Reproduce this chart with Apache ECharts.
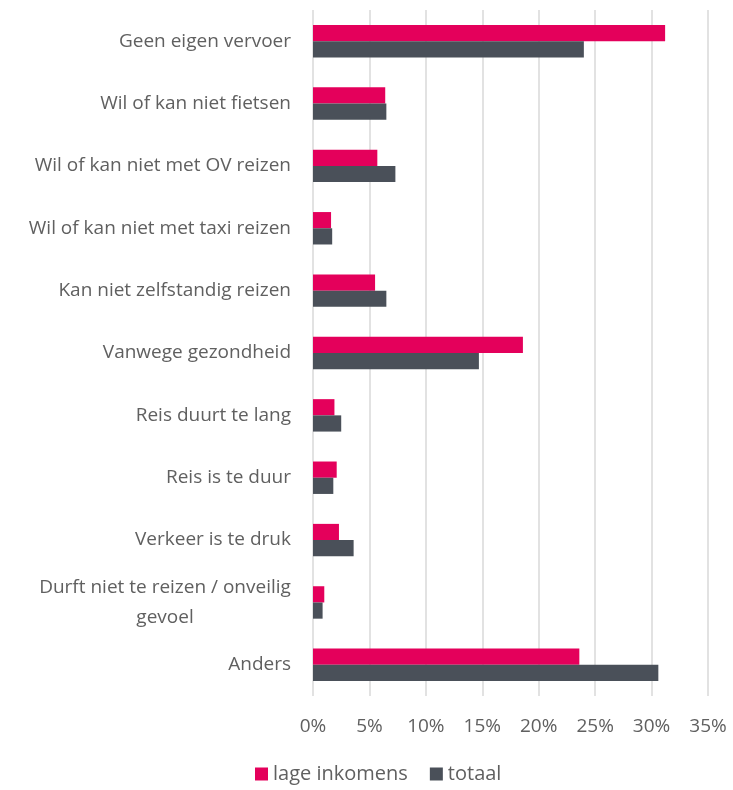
<!DOCTYPE html>
<html>
<head>
<meta charset="utf-8">
<script src="https://cdn.jsdelivr.net/npm/echarts@6/dist/echarts.min.js"></script>
<style>
  html, body { margin: 0; padding: 0; background: #fff; }
  #chart { width: 733px; height: 790px; }
</style>
</head>
<body>
<div id="chart"></div>
<script>
// Reasons for not travelling (share of respondents, %)
const categories = [
  'Geen eigen vervoer',
  'Wil of kan niet fietsen',
  'Wil of kan niet met OV reizen',
  'Wil of kan niet met taxi reizen',
  'Kan niet zelfstandig reizen',
  'Vanwege gezondheid',
  'Reis duurt te lang',
  'Reis is te duur',
  'Verkeer is te druk',
  'Durft niet te reizen / onveilig\ngevoel',
  'Anders'
];
const lageInkomens = [31.2, 6.4, 5.7, 1.6, 5.5, 18.6, 1.9, 2.1, 2.3, 1.0, 23.6];
const totaal       = [24.0, 6.5, 7.3, 1.7, 6.5, 14.7, 2.5, 1.8, 3.6, 0.85, 30.6];
const seriesNames = ['lage inkomens', 'totaal'];
const tickMax = 35;
const tickStep = 5;

const font = '"Open Sans", "Noto Sans", sans-serif';
const labelSize = 19;
const labelColor = '#606060';

// width of the longest line of a wrapped label, so every line can be centred on it
function lineWidth(lines) {
  const ctx = document.createElement('canvas').getContext('2d');
  ctx.font = labelSize + 'px ' + font;
  return Math.ceil(Math.max.apply(null, lines.map(s => ctx.measureText(s).width)));
}

const chart = echarts.init(document.getElementById('chart'), null, { renderer: 'canvas' });

chart.setOption({
  animation: false,
  color: ['#E4005B', '#4A5059'],
  textStyle: { fontFamily: font },
  grid: { left: 313, right: 25, top: 10, bottom: 94, containLabel: false },
  legend: {
    bottom: 1,
    left: 250,
    itemWidth: 13,
    itemHeight: 13,
    itemGap: 22,
    icon: 'rect',
    textStyle: { fontSize: 20, color: labelColor, fontFamily: font },
    data: seriesNames
  },
  xAxis: {
    type: 'value',
    min: 0,
    max: tickMax,
    interval: tickStep,
    axisLine: { show: false },
    axisTick: { show: false },
    splitLine: { show: true, lineStyle: { color: '#d9d9d9', width: 1.5 } },
    axisLabel: {
      margin: 21,
      fontSize: labelSize,
      color: labelColor,
      fontFamily: font,
      formatter: v => v + '%'
    }
  },
  yAxis: {
    type: 'category',
    inverse: true,
    data: categories,
    axisLine: { show: false },
    axisTick: { show: false },
    axisLabel: {
      margin: 22,
      fontSize: labelSize,
      color: labelColor,
      fontFamily: font,
      lineHeight: 30,
      formatter: function (v) {
        if (v.indexOf('\n') >= 0) {
          const lines = v.split('\n');
          const w = lineWidth(lines);
          return lines.map(s => '{c' + w + '|' + s + '}').join('\n');
        }
        return v;
      },
      rich: (function () {
        const r = {};
        categories.filter(c => c.indexOf('\n') >= 0).forEach(c => {
          const w = lineWidth(c.split('\n'));
          r['c' + w] = { width: w, align: 'center', fontSize: labelSize, color: labelColor, fontFamily: font, lineHeight: 30 };
        });
        return r;
      })()
    }
  },
  series: [
    {
      name: seriesNames[0],
      type: 'bar',
      data: lageInkomens,
      barGap: '0%',
      barCategoryGap: '48%'
    },
    {
      name: seriesNames[1],
      type: 'bar',
      data: totaal,
      barGap: '0%',
      barCategoryGap: '48%'
    }
  ]
});
</script>
</body>
</html>
